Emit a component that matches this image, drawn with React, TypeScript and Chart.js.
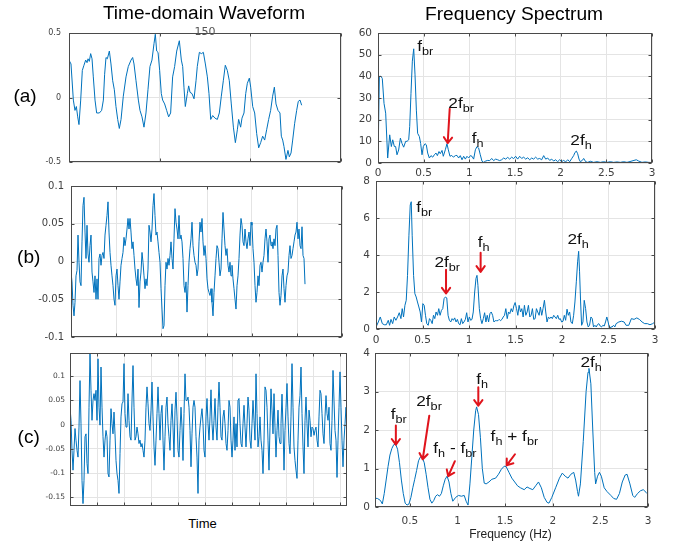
import React, { useEffect, useRef } from "react";
import { Chart, registerables } from "chart.js";

Chart.register(...registerables);

// ---------------- DATA ----------------
// (a) time-domain waveform (time in panel units, 3 grid intervals)
const timeA = [0,0.022,0.048,0.066,0.081,0.096,0.110,0.129,0.147,0.165,
0.184,0.199,0.210,0.224,0.239,0.254,0.268,0.287,0.305,0.335,
0.360,0.379,0.393,0.408,0.423,0.445,0.463,0.482,0.500,0.518,
0.537,0.555,0.574,0.599,0.629,0.654,0.684,0.702,0.717,0.739,
0.765,0.783,0.805,0.827,0.849,0.871,0.893,0.915,0.938,0.952,
0.967,0.982,1.000,1.018,1.033,1.055,1.077,1.099,1.121,1.143,
1.165,1.188,1.217,1.239,1.254,1.268,1.283,1.305,1.320,1.335,
1.357,1.379,1.401,1.415,1.438,1.460,1.482,1.504,1.526,1.544,
1.563,1.585,1.610,1.636,1.658,1.680,1.702,1.724,1.746,1.768,
1.790,1.813,1.835,1.857,1.871,1.893,1.908,1.930,1.949,1.967,
1.989,2.004,2.026,2.048,2.070,2.092,2.114,2.136,2.158,2.180,
2.202,2.224,2.246,2.265,2.283,2.305,2.327,2.342,2.357,2.371,
2.393,2.415,2.430,2.449,2.467,2.489,2.511,2.529,2.548,2.566];
const waveA = [0.29,0.26,-0.02,-0.10,-0.07,-0.15,-0.21,-0.02,0.21,0.25,
0.29,0.27,0.30,0.28,0.34,0.30,0.16,-0.02,-0.12,-0.12,
-0.10,-0.02,0.18,0.31,0.30,0.36,0.26,0.13,0.06,-0.07,
-0.17,-0.24,-0.17,0.01,0.16,0.24,0.29,0.31,0.26,0.13,
-0.02,-0.10,-0.15,-0.23,-0.12,0.06,0.24,0.29,0.42,0.49,
0.36,0.35,0.21,0.03,-0.02,-0.05,-0.10,-0.15,-0.12,0.16,
0.24,0.36,0.44,0.29,0.24,0.08,-0.07,0.03,0.09,0.04,
0.03,-0.01,0.13,0.24,0.35,0.34,0.35,0.26,0.16,0.03,
-0.17,-0.14,-0.16,-0.17,-0.12,0.01,0.13,0.25,0.21,0.13,
-0.05,-0.23,-0.35,-0.25,-0.17,-0.23,-0.16,-0.12,0.03,0.11,
0.15,0.08,-0.07,-0.12,-0.28,-0.39,-0.35,-0.30,-0.33,-0.25,
-0.17,-0.10,0.01,0.08,-0.05,-0.10,-0.12,-0.30,-0.33,-0.38,
-0.48,-0.41,-0.46,-0.43,-0.33,-0.20,-0.10,-0.03,-0.02,-0.06];

// (b) time-domain waveform, uniformly sampled (one value per sample)
const waveB = [-0.014,-0.027,-0.058,-0.072,-0.054,-0.019,-0.012,0.035,-0.001,-0.027,
-0.032,0.026,0.074,0.085,0.039,0.004,0.048,0.010,-0.001,0.021,
0.035,-0.014,-0.027,-0.041,-0.019,-0.050,-0.023,-0.050,0.004,0.010,
-0.005,0.008,0.012,0.004,0.035,0.048,0.061,0.079,0.039,0.012,
-0.005,-0.019,-0.032,-0.050,-0.058,-0.019,-0.010,-0.032,-0.050,-0.027,
-0.005,0.004,0.012,0.032,0.021,0.030,0.043,0.057,0.043,0.057,
0.039,0.017,0.026,0.008,-0.010,-0.023,-0.032,-0.010,-0.061,-0.027,
-0.014,0.012,-0.001,-0.019,-0.036,-0.023,-0.032,-0.010,0.048,0.039,
0.026,0.043,0.074,0.090,0.061,0.035,0.039,0.026,0.012,-0.001,
-0.036,-0.063,-0.089,-0.085,-0.032,-0.001,-0.010,0.004,-0.005,0.008,
0.026,0.004,-0.010,0.030,0.070,0.052,0.043,0.030,0.061,0.030,
0.035,0.026,0.004,-0.032,-0.041,-0.027,-0.067,-0.032,-0.001,0.017,
0.030,0.052,0.021,0.008,-0.001,-0.005,-0.019,-0.010,0.026,0.052,
0.039,0.057,0.026,0.008,0.021,0.004,-0.023,-0.036,-0.041,-0.045,
-0.036,-0.054,-0.072,-0.041,-0.019,0.004,0.021,0.017,-0.001,-0.019,
-0.010,0.030,0.065,0.043,0.021,0.008,0.017,-0.005,-0.014,-0.001,
-0.019,-0.005,-0.023,-0.036,-0.050,-0.063,-0.032,-0.019,0.004,0.035,
0.057,0.048,0.026,0.021,0.043,0.026,0.017,0.030,0.039,0.021,
0.052,0.048,0.017,-0.001,-0.032,-0.054,-0.041,-0.019,-0.032,-0.005,
-0.001,-0.014,-0.001,0.008,0.030,0.043,0.026,-0.001,0.030,0.035,
0.021,0.026,0.017,0.030,0.021,0.043,0.048,0.008,-0.041,-0.058,
-0.045,-0.019,-0.010,-0.036,-0.054,-0.032,-0.019,-0.014,0.008,0.021,
0.004,0.008,0.017,0.026,0.035,0.039,0.052,0.030,0.043,0.021,
0.017,0.046,0.008,0.004,-0.030];

// (c) time-domain waveform, uniformly sampled
const waveC = [0.036,0.009,-0.053,-0.094,-0.053,-0.008,-0.032,-0.053,-0.067,-0.005,
0.091,0.002,-0.115,-0.163,-0.115,-0.025,-0.019,-0.080,-0.101,0.036,
0.148,0.071,0.009,0.050,0.064,0.050,0.071,0.009,0.136,0.036,
-0.001,0.119,0.036,-0.025,-0.067,-0.032,-0.012,-0.025,-0.101,-0.108,
-0.032,0.033,0.002,-0.019,0.026,-0.019,-0.074,-0.101,-0.115,-0.142,
-0.060,0.016,0.043,0.047,0.126,0.023,-0.005,-0.005,0.064,0.009,
-0.025,-0.032,0.050,0.122,0.036,-0.032,-0.025,-0.005,-0.019,-0.039,
-0.032,-0.046,-0.039,-0.053,-0.067,-0.032,0.036,0.078,0.043,0.002,
-0.012,0.030,0.088,0.016,-0.046,-0.084,-0.032,0.023,0.078,0.023,
-0.032,0.023,0.040,-0.032,-0.094,-0.025,0.036,0.057,0.002,-0.025,
-0.053,0.009,0.043,-0.005,-0.067,0.030,0.067,0.016,-0.053,-0.067,
-0.012,0.036,-0.005,-0.074,0.023,0.105,0.050,0.050,0.057,0.036,
-0.012,-0.087,-0.019,0.036,0.050,0.036,-0.025,-0.067,-0.142,-0.032,
-0.005,0.016,0.033,0.002,-0.053,-0.067,0.016,0.054,0.002,-0.032,
0.016,0.072,0.002,-0.032,0.009,0.054,-0.005,-0.032,0.036,0.088,
0.036,-0.025,-0.032,0.016,0.030,0.002,-0.039,-0.053,-0.012,0.050,
0.036,-0.032,-0.067,-0.032,0.016,-0.053,0.002,-0.046,0.050,0.054,
0.002,-0.039,-0.046,0.002,0.040,-0.005,-0.046,0.002,0.057,0.030,
-0.032,-0.049,0.002,0.050,0.009,-0.032,0.105,0.023,-0.046,-0.025,
0.016,-0.032,-0.053,-0.101,-0.032,0.078,0.071,0.036,-0.032,-0.094,
-0.005,0.074,0.030,-0.019,0.064,-0.005,-0.067,-0.012,0.030,-0.025,
-0.039,0.002,0.063,-0.005,-0.094,-0.012,0.036,0.085,0.016,-0.039,
-0.060,0.016,0.126,0.036,-0.046,-0.074,-0.094,-0.111,-0.032,0.036,
0.060,0.119,0.023,-0.046,-0.101,0.009,0.057,0.002,-0.046,0.030,
0.009,-0.025,-0.005,-0.008,-0.022,-0.012,-0.005,-0.032,-0.046,0.016,
0.071,0.064,0.023,-0.019,-0.039,0.016,0.060,0.023,0.009,0.036,
-0.039,-0.053,0.009,0.112,0.050,-0.012,-0.032,-0.109,-0.032,0.036,
0.109,0.036,-0.032,-0.087,-0.032,0.002,0.036,-0.012,-0.053];

// (a) spectrum
const freqA = [0,0.015,0.033,0.047,0.066,0.084,0.106,0.128,0.146,0.161,
0.179,0.193,0.208,0.226,0.245,0.263,0.281,0.303,0.318,0.336,
0.347,0.361,0.376,0.391,0.405,0.420,0.434,0.453,0.467,0.482,
0.496,0.515,0.529,0.544,0.562,0.580,0.599,0.617,0.635,0.650,
0.668,0.682,0.701,0.715,0.737,0.755,0.770,0.788,0.807,0.825,
0.847,0.865,0.883,0.901,0.920,0.938,0.956,0.974,0.993,1.011,
1.029,1.047,1.066,1.084,1.102,1.120,1.139,1.157,1.179,1.201,
1.223,1.245,1.266,1.288,1.310,1.332,1.354,1.376,1.398,1.420,
1.442,1.464,1.485,1.507,1.529,1.551,1.573,1.595,1.617,1.639,
1.661,1.683,1.704,1.726,1.748,1.770,1.792,1.814,1.836,1.858,
1.880,1.902,1.923,1.945,1.967,1.989,2.011,2.033,2.055,2.077,
2.099,2.120,2.142,2.157,2.172,2.186,2.201,2.215,2.237,2.252,
2.274,2.296,2.325,2.361,2.398,2.434,2.471,2.507,2.544,2.580,
2.617,2.653,2.690,2.726,2.770,2.828,2.854,2.890,2.927,2.963,
3.000];
const specA = [0,40,40,39,27.5,23,2.3,13,7.6,10.7,
7.6,7.6,3.8,6,11.5,9,7.3,10,10,10.7,
16.8,32,47,52.7,41,24.4,13.7,12.2,9,3.8,
7.6,8.9,8.4,4.6,2.3,3.4,2.7,3.8,4.6,3.4,
5.3,4.3,5.8,3.1,6.1,8.9,6.1,3.1,3.5,2.7,
3.4,3.5,2.3,3.4,1.5,3.1,1.8,3.1,2.3,3.4,
3.1,1.8,6.1,7.6,6.9,3.8,0.8,0.3,0.9,1.2,
1.1,2.1,1.1,1.8,1.5,1.1,1.5,2.3,1.8,2.6,
1.8,2.7,2.0,3.1,1.8,3.1,2.1,2.7,1.8,2.4,
1.5,2.3,1.8,2.7,1.8,2.1,1.5,3.4,1.8,2.3,
1.2,1.8,0.9,1.5,0.6,1.5,0.6,1.2,0.5,1.5,
0.6,2.0,3.4,4.9,5.5,4.3,1.8,0.6,1.2,2.1,
0.6,0.3,0.8,0.3,0.6,0.3,0.6,0.3,0.6,0.3,
0.5,0.3,0.6,0.3,0.8,1.5,0.9,0.3,0.5,0.3,
0.2];

// (b) spectrum
const freqB = [0,0.025,0.046,0.068,0.089,0.111,0.132,0.146,0.161,0.179,
0.196,0.214,0.232,0.25,0.268,0.282,0.296,0.311,0.325,0.339,
0.354,0.368,0.379,0.389,0.404,0.418,0.432,0.446,0.461,0.475,
0.489,0.504,0.518,0.532,0.546,0.561,0.575,0.589,0.604,0.618,
0.632,0.646,0.661,0.675,0.689,0.704,0.718,0.732,0.746,0.761,
0.775,0.789,0.804,0.818,0.832,0.846,0.861,0.875,0.889,0.904,
0.918,0.932,0.946,0.961,0.975,0.989,1.004,1.018,1.032,1.046,
1.061,1.075,1.086,1.096,1.111,1.125,1.139,1.154,1.168,1.182,
1.196,1.211,1.225,1.239,1.254,1.268,1.282,1.296,1.311,1.325,
1.339,1.354,1.368,1.382,1.396,1.411,1.425,1.439,1.454,1.468,
1.482,1.496,1.511,1.525,1.539,1.554,1.568,1.582,1.596,1.611,
1.625,1.639,1.654,1.668,1.682,1.696,1.711,1.725,1.739,1.754,
1.768,1.782,1.796,1.811,1.825,1.839,1.854,1.868,1.882,1.896,
1.911,1.925,1.939,1.954,1.968,1.982,1.996,2.011,2.025,2.039,
2.054,2.068,2.082,2.096,2.111,2.125,2.139,2.154,2.168,2.179,
2.189,2.2,2.211,2.225,2.239,2.254,2.268,2.282,2.296,2.311,
2.325,2.339,2.354,2.368,2.382,2.396,2.411,2.425,2.439,2.454,
2.468,2.482,2.496,2.511,2.525,2.539,2.554,2.568,2.582,2.611,
2.639,2.668,2.689,2.718,2.746,2.775,2.804,2.832,2.861,2.889,
2.918,2.946,2.975,3.0];
const specB = [0.1,0.38,0.65,0.29,0.23,0.23,0.47,0.2,0.52,0.29,
0.65,0.47,0.65,0.88,0.56,1.1,0.65,1.28,1.55,2.9,
5.07,6.7,6.88,5.07,2.9,1.91,1.73,1.46,1.19,0.92,
0.38,1.37,1.28,0.74,0.29,0.2,0.56,0.47,0.29,0.74,
0.56,0.92,0.74,1.1,0.74,1.01,1.1,1.64,1.73,1.68,
0.74,0.47,0.38,0.56,0.47,0.6,0.38,0.52,0.29,0.23,
0.56,0.29,0.38,0.52,0.88,0.38,0.65,0.47,0.52,0.92,
2.0,2.73,2.9,2.36,1.1,0.56,0.29,0.56,0.88,0.38,
0.74,0.38,0.83,0.92,0.74,0.38,0.45,0.45,0.45,0.52,
0.45,0.52,0.65,0.74,1.1,0.56,0.92,0.83,1.1,0.92,
1.25,1.43,1.1,0.74,1.28,0.92,1.1,0.65,1.28,0.74,
0.92,1.28,0.65,0.74,1.1,0.52,0.56,1.1,0.92,0.74,
1.19,0.74,1.1,1.55,0.92,0.38,0.65,0.56,0.65,0.56,
0.74,0.65,0.56,0.74,0.52,0.56,0.38,0.42,0.74,0.47,
1.07,0.74,0.92,0.38,0.29,0.74,1.46,2.55,3.63,4.2,
3.09,1.46,0.2,0.38,1.55,1.1,0.38,0.11,0.2,0.65,
0.56,0.11,0.2,0.11,0.24,0.29,0.16,0.11,0.2,0.16,
0.38,0.65,0.38,0.02,0.11,0.11,0.2,0.11,0.29,0.38,
0.42,0.38,0.2,0.2,0.56,0.52,0.6,0.52,0.38,0.29,
0.29,0.23,0.29,0.38];

// (c) spectrum
const freqC = [0.13,0.16,0.19,0.21,0.23,0.25,0.27,0.29,0.31,0.33,
0.35,0.37,0.39,0.41,0.43,0.45,0.47,0.49,0.51,0.53,
0.55,0.57,0.59,0.61,0.63,0.65,0.67,0.69,0.71,0.73,
0.75,0.77,0.79,0.81,0.83,0.85,0.87,0.89,0.91,0.93,
0.95,0.98,1.01,1.04,1.07,1.09,1.11,1.13,1.15,1.17,
1.19,1.20,1.22,1.24,1.26,1.28,1.30,1.33,1.36,1.40,
1.43,1.46,1.49,1.51,1.54,1.57,1.60,1.63,1.66,1.70,
1.73,1.76,1.79,1.82,1.85,1.88,1.91,1.94,1.96,1.99,
2.03,2.07,2.10,2.13,2.16,2.19,2.22,2.24,2.26,2.27,
2.29,2.32,2.35,2.37,2.38,2.40,2.42,2.44,2.45,2.47,
2.49,2.51,2.54,2.57,2.61,2.64,2.67,2.70,2.73,2.76,
2.78,2.81,2.84,2.86,2.89,2.92,2.95,2.98,3.00];
const specC = [0.23,0.22,0.17,0.08,0.35,0.7,1.05,1.35,1.52,1.62,
1.63,1.5,1.15,0.7,0.35,0.1,0.05,0.08,0.25,0.5,
0.72,0.95,1.2,1.3,1.28,1.15,0.85,0.5,0.2,0.1,
0.17,0.28,0.32,0.28,0.35,0.55,0.72,0.8,0.65,0.35,
0.15,0.25,0.3,0.28,0.3,0.15,0.05,0.6,1.3,2.0,
2.5,2.6,2.4,1.8,1.0,0.62,0.6,0.65,0.72,0.75,
0.85,0.98,1.06,1.05,0.9,0.75,0.65,0.55,0.5,0.45,
0.52,0.48,0.45,0.55,0.65,0.5,0.25,0.12,0.1,0.25,
0.5,0.75,0.88,0.8,0.75,0.85,0.9,0.7,0.4,0.28,
0.6,1.7,3.0,3.5,3.6,3.2,2.0,0.9,0.6,0.8,
0.9,0.8,0.5,0.4,0.3,0.22,0.2,0.35,0.65,0.83,
0.85,0.6,0.3,0.25,0.35,0.42,0.45,0.38,0.33];

// Tick values / labels
const freqTicks = [0, 0.5, 1, 1.5, 2, 2.5, 3];
const freqTickLabels = ["0", "0.5", "1", "1.5", "2", "2.5", "3"];
const freqTicksC = [0.5, 1, 1.5, 2, 2.5, 3];
const freqTickLabelsC = ["0.5", "1", "1.5", "2", "2.5", "3"];
const ampTicksA = [0, 10, 20, 30, 40, 50, 60];
const ampTickLabelsA = ["0", "10", "20", "30", "40", "50", "60"];
const ampTicksB = [0, 2, 4, 6, 8];
const ampTickLabelsB = ["0", "2", "4", "6", "8"];
const ampTicksC = [0, 1, 2, 3, 4];
const ampTickLabelsC = ["0", "1", "2", "3", "4"];
const waveTicksA = [-0.5, 0, 0.5];
const waveTickLabelsA = ["-0.5", "0", "0.5"];
const waveTicksB = [-0.1, -0.05, 0, 0.05, 0.1];
const waveTickLabelsB = ["-0.1", "-0.05", "0", "0.05", "0.1"];
const waveTicksC = [-0.15, -0.1, -0.05, 0, 0.05, 0.1];
const waveTickLabelsC = ["-0.15", "-0.1", "-0.05", "0", "0.05", "0.1"];
const timeGridA = [0, 1, 2, 3];
const timeGridB = [0, 45, 90, 136, 181, 226, 271];
const timeGridC = [0, 27, 54, 81, 108, 135, 162, 189, 216, 243, 270];

// Annotations (data coordinates)
const labelsSpecA = [
  { x: 0.43, y: 51.6, parts: [["f", 0], ["br", 1]] },
  { x: 0.77, y: 25.3, parts: [["2f", 0], ["br", 1]] },
  { x: 1.026, y: 9.2, parts: [["f", 0], ["h", 1]] },
  { x: 2.106, y: 8.1, parts: [["2f", 0], ["h", 1]] },
];
const arrowsSpecA = [{ x1: 0.785, y1: 25.0, x2: 0.763, y2: 9.2 }];
const labelsSpecB = [
  { x: 0.432, y: 6.33, parts: [["f", 0], ["br", 1]] },
  { x: 0.628, y: 3.36, parts: [["2f", 0], ["br", 1]] },
  { x: 1.093, y: 4.44, parts: [["f", 0], ["h", 1]] },
  { x: 2.058, y: 4.62, parts: [["2f", 0], ["h", 1]] },
];
const arrowsSpecB = [
  { x1: 0.753, y1: 3.2, x2: 0.753, y2: 1.92 },
  { x1: 1.125, y1: 4.12, x2: 1.125, y2: 3.09 },
];
const labelsSpecC = [
  { x: 0.298, y: 2.28, parts: [["f", 0], ["br", 1]] },
  { x: 0.566, y: 2.63, parts: [["2f", 0], ["br", 1]] },
  { x: 0.745, y: 1.41, parts: [["f", 0], ["h", 1], [" - f", 0], ["br", 1]] },
  { x: 1.197, y: 3.19, parts: [["f", 0], ["h", 1]] },
  { x: 1.347, y: 1.71, parts: [["f", 0], ["h", 1], [" + f", 0], ["br", 1]] },
  { x: 2.29, y: 3.63, parts: [["2f", 0], ["h", 1]] },
];
const arrowsSpecC = [
  { x1: 0.352, y1: 2.12, x2: 0.352, y2: 1.62 },
  { x1: 0.703, y1: 2.37, x2: 0.634, y2: 1.24 },
  { x1: 0.972, y1: 1.19, x2: 0.902, y2: 0.8 },
  { x1: 1.218, y1: 3.11, x2: 1.218, y2: 2.63 },
  { x1: 1.603, y1: 1.37, x2: 1.516, y2: 1.08 },
];

// ---------------- STYLE ----------------
const SANS = "'Liberation Sans', Arial, Helvetica, sans-serif";
const TICKF = "'DejaVu Sans', 'Liberation Sans', sans-serif";
const LINE = "#0072bd";
const GRID = "#e4e4e4";
const FRAME = "#4a4a4a";
const TICKC = "#404040";
const RED = "#e0141c";

function makePlugin(cfg: any) {
  return {
    id: "framePlus",
    beforeDraw(chart: any) {
      const { ctx, chartArea: a } = chart;
      ctx.save();
      ctx.fillStyle = "#ffffff";
      ctx.fillRect(a.left, a.top, a.right - a.left, a.bottom - a.top);
      ctx.restore();
    },
    afterDraw(chart: any) {
      const { ctx, chartArea: a } = chart;
      const xs = chart.scales.x;
      const ys = chart.scales.y;
      ctx.save();
      ctx.strokeStyle = FRAME;
      ctx.lineWidth = 1;
      const L = Math.round(a.left) + 0.5;
      const R = Math.round(a.right) - 0.5;
      const T = Math.round(a.top) + 0.5;
      const B = Math.round(a.bottom) - 0.5;
      ctx.strokeRect(L, T, R - L, B - T);
      ctx.beginPath();
      for (const t of xs.ticks) {
        const px = Math.round(xs.getPixelForValue(t.value)) + 0.5;
        ctx.moveTo(px, B); ctx.lineTo(px, B - 3);
        ctx.moveTo(px, T); ctx.lineTo(px, T + 3);
      }
      for (const t of ys.ticks) {
        const py = Math.round(ys.getPixelForValue(t.value)) + 0.5;
        ctx.moveTo(L, py); ctx.lineTo(L + 3, py);
        ctx.moveTo(R, py); ctx.lineTo(R - 3, py);
      }
      ctx.stroke();

      // arrows
      for (const ar of cfg.arrows || []) {
        const x1 = xs.getPixelForValue(ar.x1), y1 = ys.getPixelForValue(ar.y1);
        const x2 = xs.getPixelForValue(ar.x2), y2 = ys.getPixelForValue(ar.y2);
        const ang = Math.atan2(y2 - y1, x2 - x1);
        const h = 7, w = Math.PI / 5;
        ctx.strokeStyle = RED;
        ctx.lineWidth = 2;
        ctx.lineCap = "round";
        ctx.lineJoin = "round";
        ctx.beginPath();
        ctx.moveTo(x1, y1); ctx.lineTo(x2, y2);
        ctx.moveTo(x2 - h * Math.cos(ang - w), y2 - h * Math.sin(ang - w));
        ctx.lineTo(x2, y2);
        ctx.lineTo(x2 - h * Math.cos(ang + w), y2 - h * Math.sin(ang + w));
        ctx.stroke();
      }
      // labels
      ctx.fillStyle = "#111";
      ctx.textBaseline = "alphabetic";
      ctx.textAlign = "left";
      const SX = 1.15;
      for (const lb of cfg.labels || []) {
        let cx = xs.getPixelForValue(lb.x);
        const by = ys.getPixelForValue(lb.y);
        for (const [txt, sub] of lb.parts) {
          ctx.font = sub ? `11px ${SANS}` : `15px ${SANS}`;
          ctx.save();
          ctx.translate(cx, by + (sub ? 4 : 0));
          ctx.scale(SX, 1);
          ctx.fillText(txt, 0, 0);
          ctx.restore();
          cx += ctx.measureText(txt).width * SX;
        }
      }
      ctx.restore();
    },
  };
}

function Panel({ cfg, z }: { cfg: any; z: number }) {
  const ref = useRef<HTMLCanvasElement>(null);
  const { plot, yW, xH, padTop, padRight } = cfg;
  const left = plot.l - yW;
  const top = plot.t - padTop;
  const width = plot.r - left + padRight;
  const height = plot.b + xH - top;

  useEffect(() => {
    const fmt = (labels: string[] | null) => (_v: any, i: number) => (labels ? labels[i] : "");
    const noPad = (s: any) => {
      s.paddingTop = 0; s.paddingBottom = 0; s.paddingLeft = 0; s.paddingRight = 0;
    };
    const chart = new Chart(ref.current as HTMLCanvasElement, {
      type: "line",
      data: {
        datasets: [
          {
            data: cfg.points,
            borderColor: LINE,
            borderWidth: 1,
            pointRadius: 0,
            pointHoverRadius: 0,
            tension: 0,
            fill: false,
          },
        ],
      },
      options: {
        animation: false,
        responsive: false,
        events: [],
        layout: { autoPadding: false, padding: { top: padTop, right: padRight, left: 0, bottom: 0 } },
        plugins: { legend: { display: false }, tooltip: { enabled: false } },
        scales: {
          x: {
            type: "linear",
            min: cfg.xMin,
            max: cfg.xMax,
            afterBuildTicks: (s: any) => { s.ticks = cfg.xTicks.map((v: number) => ({ value: v })); },
            afterFit: (s: any) => { s.height = xH; noPad(s); },
            grid: { color: GRID, drawTicks: false, lineWidth: 1 },
            border: { display: false },
            ticks: {
              display: !!cfg.xLabels,
              autoSkip: false,
              maxRotation: 0,
              padding: cfg.xPad || 4,
              color: TICKC,
              font: { family: TICKF, size: cfg.tickSize },
              callback: fmt(cfg.xLabels),
            },
          },
          y: {
            type: "linear",
            min: cfg.yMin,
            max: cfg.yMax,
            afterBuildTicks: (s: any) => { s.ticks = cfg.yTicks.map((v: number) => ({ value: v })); },
            afterFit: (s: any) => { s.width = yW; noPad(s); },
            grid: { color: GRID, drawTicks: false, lineWidth: 1 },
            border: { display: false },
            ticks: {
              autoSkip: false,
              padding: cfg.yPad || 6,
              color: TICKC,
              font: { family: TICKF, size: cfg.yTickSize || cfg.tickSize },
              callback: fmt(cfg.yLabels),
            },
          },
        },
      } as any,
      plugins: [makePlugin(cfg)],
    });
    return () => chart.destroy();
  }, []);

  return (
    <canvas
      ref={ref}
      width={width}
      height={height}
      style={{ position: "absolute", left, top, width, height, zIndex: z }}
    />
  );
}

function Txt({ x, y, size, sx = 1, family = SANS, color = "#000", children }: any) {
  return (
    <div
      style={{
        position: "absolute",
        left: x,
        top: y - 0.846 * size,
        fontFamily: family,
        fontSize: size,
        lineHeight: `${size}px`,
        whiteSpace: "nowrap",
        color,
        zIndex: 20,
        transform: `translateX(-50%) scaleX(${sx})`,
        transformOrigin: "center",
      }}
    >
      {children}
    </div>
  );
}

const zip = (xs: number[], ys: number[]) => {
  const n = Math.min(xs.length, ys.length);
  const out: { x: number; y: number }[] = [];
  for (let i = 0; i < n; i++) out.push({ x: xs[i], y: ys[i] });
  return out;
};
const indexed = (ys: number[]) => ys.map((v, i) => ({ x: i, y: v }));

export default function App() {
  const panels = [
    {
      key: "la", plot: { l: 69, t: 33, r: 341, b: 162 }, yW: 40, xH: 4, padTop: 8, padRight: 4,
      points: zip(timeA, waveA), xMin: 0, xMax: 3, xTicks: timeGridA, xLabels: null,
      yMin: -0.5, yMax: 0.5, yTicks: waveTicksA, yLabels: waveTickLabelsA, tickSize: 8, yPad: 8,
    },
    {
      key: "lb", plot: { l: 71, t: 186, r: 342, b: 337 }, yW: 45, xH: 6, padTop: 12, padRight: 4,
      points: indexed(waveB), xMin: 0, xMax: 271, xTicks: timeGridB, xLabels: null,
      yMin: -0.1, yMax: 0.1, yTicks: waveTicksB, yLabels: waveTickLabelsB, tickSize: 10, yPad: 7,
    },
    {
      key: "lc", plot: { l: 70, t: 353, r: 347, b: 506 }, yW: 45, xH: 4, padTop: 8, padRight: 4,
      points: indexed(waveC), xMin: 0, xMax: 277, xTicks: timeGridC, xLabels: null,
      yMin: -0.168, yMax: 0.148, yTicks: waveTicksC, yLabels: waveTickLabelsC, tickSize: 7.5, yPad: 5,
    },
    {
      key: "ra", plot: { l: 378, t: 33, r: 652, b: 163 }, yW: 35, xH: 16, padTop: 8, padRight: 10,
      points: zip(freqA, specA), xMin: 0, xMax: 3, xTicks: freqTicks, xLabels: freqTickLabels,
      yMin: 0, yMax: 60, yTicks: ampTicksA, yLabels: ampTickLabelsA, tickSize: 10.5, yPad: 6, xPad: 4,
      labels: labelsSpecA, arrows: arrowsSpecA,
    },
    {
      key: "rb", plot: { l: 376, t: 181, r: 655, b: 329 }, yW: 35, xH: 18, padTop: 12, padRight: 10,
      points: zip(freqB, specB), xMin: 0, xMax: 3, xTicks: freqTicks, xLabels: freqTickLabels,
      yMin: 0, yMax: 8, yTicks: ampTicksB, yLabels: ampTickLabelsB, tickSize: 10.5, yPad: 6, xPad: 5,
      labels: labelsSpecB, arrows: arrowsSpecB,
    },
    {
      key: "rc", plot: { l: 375, t: 353, r: 648, b: 507 }, yW: 35, xH: 20, padTop: 8, padRight: 10,
      points: zip(freqC, specC), xMin: 0.133, xMax: 3, xTicks: freqTicksC, xLabels: freqTickLabelsC,
      yMin: 0, yMax: 4, yTicks: ampTicksC, yLabels: ampTickLabelsC, tickSize: 10.5, yPad: 5, xPad: 8,
      labels: labelsSpecC, arrows: arrowsSpecC,
    },
  ];

  return (
    <div
      style={{
        position: "fixed", left: 0, top: 0, width: 673, height: 545,
        background: "#fff", overflow: "hidden",
      }}
    >
      <Txt x={205} y={35} size={11} family={TICKF} color="#555">150</Txt>
      {panels.map((p, i) => (
        <Panel key={p.key} cfg={p} z={i + 1} />
      ))}
      <Txt x={204} y={19} size={18} sx={1.06}>Time-domain Waveform</Txt>
      <Txt x={514} y={20} size={18} sx={1.066}>Frequency Spectrum</Txt>
      <Txt x={25} y={102} size={19}>(a)</Txt>
      <Txt x={28.7} y={263} size={19}>(b)</Txt>
      <Txt x={28.7} y={443} size={19}>(c)</Txt>
      <Txt x={202.5} y={527.5} size={13}>Time</Txt>
      <Txt x={510.5} y={538} size={12} color="#222">Frequency (Hz)</Txt>
    </div>
  );
}
